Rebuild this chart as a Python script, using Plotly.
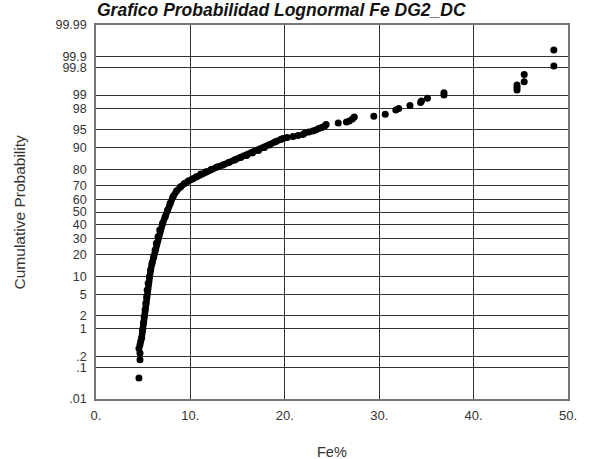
import plotly.graph_objects as go
from statistics import NormalDist

_nd = NormalDist()


def zq(p):
    return _nd.inv_cdf(p / 100.0)


# ---- data ----
tick_probs = [99.99, 99.9, 99.8, 99, 98, 95, 90, 80, 70, 60, 50, 40, 30, 20, 10, 5, 2, 1, 0.2, 0.1, 0.01]
tick_labels = ["99.99", "99.9", "99.8", "99", "98", "95", "90", "80", "70", "60", "50",
               "40", "30", "20", "10", "5", "2", "1", ".2", ".1", ".01"]
x_ticks = [0, 10, 20, 30, 40, 50]
x_tick_labels = ["0.", "10.", "20.", "30.", "40.", "50."]

# dense part of the curve (Fe %, cumulative probability %)
band_fe = [4.83, 4.94, 5.02, 5.11, 5.20, 5.28, 5.36, 5.42, 5.53, 5.65, 5.79, 5.94, 6.12, 6.26,
           6.40, 6.57, 6.75, 7.06, 7.33, 7.59, 7.85, 8.16, 8.53, 8.95, 9.37, 9.78, 10.20, 10.62,
           11.09, 11.64, 12.19, 12.82, 13.45, 14.07, 14.70, 15.33, 15.96, 16.59, 17.21, 17.84,
           18.37, 18.99, 19.62]
band_prob = [0.602, 0.954, 1.366, 1.874, 2.58, 3.47, 4.55, 6.07, 7.83, 9.92, 12.46, 15.41, 18.72,
             22.51, 26.69, 31.17, 36.04, 41.11, 46.30, 51.59, 56.87, 61.94, 66.2, 69.26, 71.46,
             73.13, 74.42, 75.86, 77.51, 78.87, 80.10, 81.46, 82.51, 83.75, 84.94, 86.08, 86.95,
             87.97, 88.94, 90.02, 90.87, 91.90, 92.59]

# separate samples (tails)
dot_fe = [4.55, 4.66, 4.66, 4.55, 4.66, 4.73,
          19.83, 20.25, 20.87, 21.40, 21.92, 22.13, 22.55, 22.97, 23.28, 23.60, 23.91, 24.23,
          24.38, 25.66, 26.53, 26.84, 27.16, 27.36, 29.43, 30.64, 31.76, 32.07, 33.26, 34.38,
          34.48, 35.11, 36.86, 36.86, 44.60, 44.60, 44.60, 45.36, 45.36, 48.50, 48.50]
dot_prob = [0.048, 0.164, 0.249, 0.330, 0.412, 0.497,
            92.81, 93.08, 93.34, 93.59, 93.84, 94.19, 94.42, 94.64, 94.86, 95.16, 95.36, 95.64,
            95.91, 96.16, 96.33, 96.48, 96.78, 97.06, 97.15, 97.41, 97.88, 98.02, 98.29, 98.53,
            98.64, 98.81, 99.12, 99.00, 99.42, 99.34, 99.24, 99.69, 99.52, 99.936, 99.816]

FONT = "Liberation Sans, Arial, Helvetica, sans-serif"

fig = go.Figure()
fig.add_trace(go.Scatter(
    x=band_fe, y=[zq(p) for p in band_prob], mode="lines+markers",
    line=dict(color="black", width=6.5), marker=dict(color="black", size=7),
    hoverinfo="skip", showlegend=False))
fig.add_trace(go.Scatter(
    x=dot_fe, y=[zq(p) for p in dot_prob], mode="markers",
    marker=dict(color="black", size=7), hoverinfo="skip", showlegend=False))

ylim = zq(99.99)
fig.update_layout(
    width=589, height=459,
    margin=dict(l=95.5, r=15.7, t=25, b=60),
    paper_bgcolor="white", plot_bgcolor="white",
    font=dict(family=FONT, color="#222"),
    title=dict(text="<b><i>Grafico Probabilidad Lognormal Fe DG2_DC</i></b>",
               x=97 / 589, xanchor="left", xref="container",
               y=1 - 10 / 459, yanchor="middle", yref="container",
               font=dict(family=FONT, size=17.5, color="#111")),
    xaxis=dict(range=[0, 50], tickvals=x_ticks, ticktext=x_tick_labels,
               showgrid=True, gridcolor="#333", gridwidth=1,
               showline=True, linecolor="#777", linewidth=1.5, mirror=True,
               zeroline=False, ticks="", ticklabelstandoff=4,
               tickfont=dict(size=13, color="#333")),
    yaxis=dict(range=[-ylim, ylim], tickvals=[zq(p) for p in tick_probs], ticktext=tick_labels,
               showgrid=True, gridcolor="#333", gridwidth=1,
               showline=True, linecolor="#777", linewidth=1.5, mirror=True,
               zeroline=False, ticks="", ticklabelstandoff=5,
               tickfont=dict(size=12.5, color="#333")),
    annotations=[
        dict(text="Fe%", xref="paper", yref="paper", x=(334 - 95.5) / 477.8,
             y=(399 - 452) / 374, showarrow=False, xanchor="center", yanchor="middle",
             font=dict(size=14.5, color="#333")),
        dict(text="Cumulative Probability", xref="paper", yref="paper",
             x=(18 - 95.5) / 477.8, y=(399 - 212) / 374, textangle=-90,
             showarrow=False, xanchor="center", yanchor="middle",
             font=dict(size=15.5, color="#333")),
    ],
)

fig.write_html("out.html")
